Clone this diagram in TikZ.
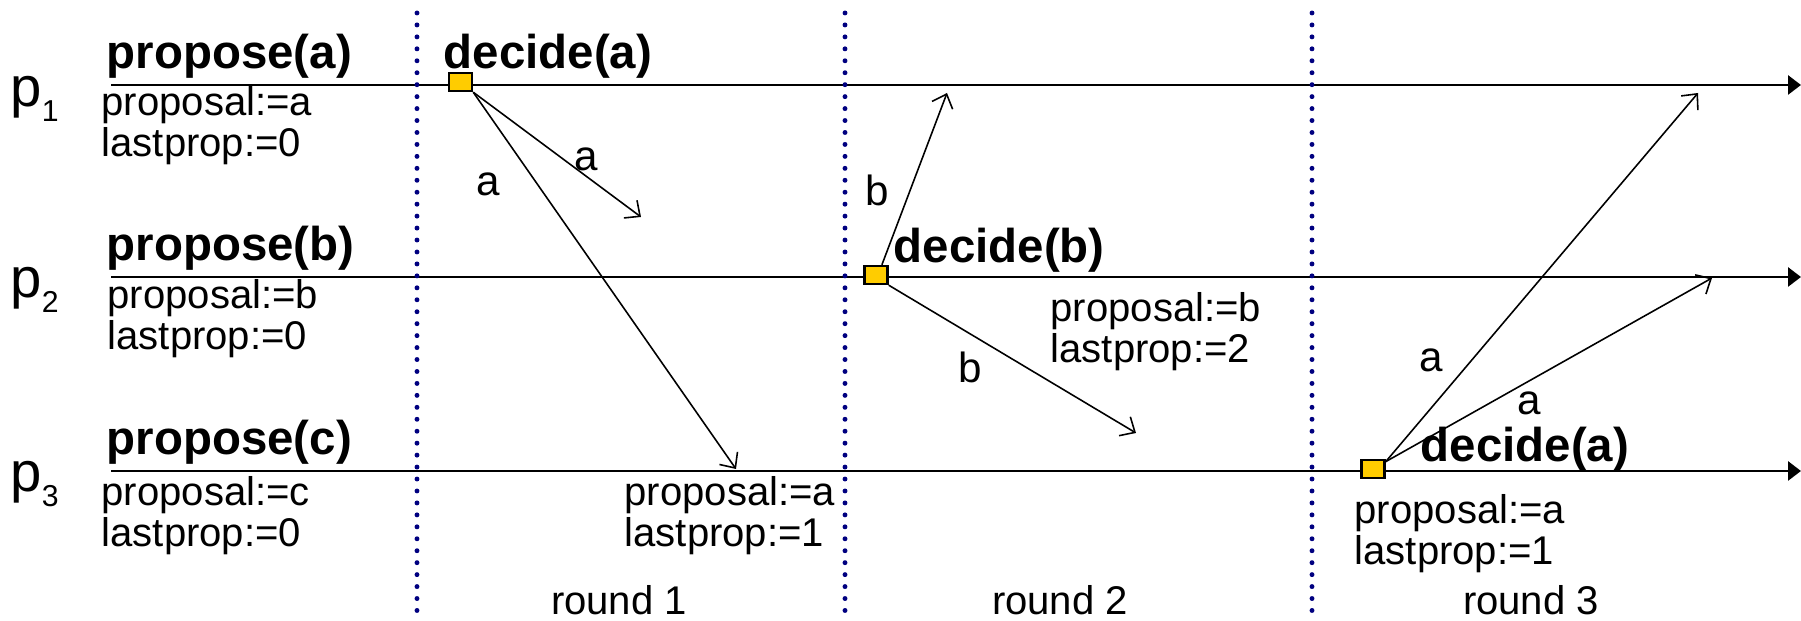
\documentclass[tikz,border=0pt]{standalone}
\usepackage{fontspec}
\setmainfont{Liberation Sans}
\usetikzlibrary{arrows.meta}
\definecolor{dotblue}{RGB}{0,0,128}
\definecolor{decyellow}{RGB}{255,204,0}
\newcommand{\psub}[1]{{\fontsize{8.6}{9}\selectfont\raisebox{-0.15cm}{#1}}}
\tikzset{
  procline/.style={line width=0.8pt, -{Triangle[length=0.13cm,width=0.19cm]}},
  roundsep/.style={dotblue, line width=1.4pt, line cap=round, dash pattern=on 0pt off 3.4pt},
  msgarrow/.style={line width=0.45pt, -{Straight Barb[length=0.12cm,width=0.22cm]}},
  decbox/.style={draw, fill=decyellow, line width=0.7pt, minimum width=0.23cm, minimum height=0.18cm, inner sep=0pt},
  evtext/.style={anchor=base west, inner sep=0pt, font=\fontsize{13.5}{16}\selectfont\bfseries},
  vartext/.style={anchor=base west, inner sep=0pt, align=left, font=\fontsize{11.4}{11.67}\selectfont},
  msglabel/.style={inner sep=0pt, font=\fontsize{12}{14}\selectfont},
  proclabel/.style={anchor=base west, inner sep=0pt, font=\fontsize{16}{18}\selectfont},
  roundlabel/.style={anchor=base, inner sep=0pt, font=\fontsize{11.4}{14}\selectfont}
}

\begin{document}
\begin{tikzpicture}
  \useasboundingbox (0,0) rectangle (18.01,6.21);

  % process time lines
  \coordinate (s1) at (1.11,5.36);
  \coordinate (e1) at (18.01,5.36);
  \coordinate (s2) at (1.11,3.44);
  \coordinate (e2) at (18.01,3.44);
  \coordinate (s3) at (1.11,1.50);
  \coordinate (e3) at (18.01,1.50);
  \foreach \i in {1,2,3}
    \draw[procline] (s\i) -- (e\i);

  % round borders
  \foreach \x [count=\i] in {4.17,8.45,13.12} {
    \coordinate (t\i) at (\x,6.08);
    \coordinate (b\i) at (\x,0);
    \draw[roundsep] (t\i) -- (b\i);
  }

  % process names
  \node[proclabel] (p1) at (0.10,5.14) {p\psub{1}};
  \node[proclabel] (p2) at (0.10,3.23) {p\psub{2}};
  \node[proclabel] (p3) at (0.10,1.29) {p\psub{3}};

  % decisions
  \node[decbox] (d1) at (4.605,5.39) {};
  \node[decbox] (d2) at (8.76,3.46) {};
  \node[decbox] (d3) at (13.73,1.52) {};

  % messages
  \coordinate (m1) at (6.41,4.04);
  \coordinate (m2) at (7.36,1.52);
  \coordinate (m3) at (9.47,5.28);
  \coordinate (m4) at (11.36,1.88);
  \coordinate (m5) at (16.98,5.28);
  \coordinate (m6) at (17.12,3.43);
  \draw[msgarrow] (d1.south east) -- (m1);
  \draw[msgarrow] (d1.south east) -- (m2);
  \draw[msgarrow] (d2.60) -- (m3);
  \draw[msgarrow] (d2.south east) -- (m4);
  \draw[msgarrow] (d3.30) -- (m5);
  \draw[msgarrow] (d3.30) -- (m6);

  \node[msglabel] (la1) at (4.88,4.37) {a};
  \node[msglabel] (la2) at (5.86,4.62) {a};
  \node[msglabel] (lb1) at (8.77,4.31) {b};
  \node[msglabel] (lb2) at (9.70,2.54) {b};
  \node[msglabel] (la3) at (14.31,2.61) {a};
  \node[msglabel] (la4) at (15.29,2.18) {a};

  % events
  \node[evtext] (prop1) at (1.06,5.525) {propose(a)};
  \node[evtext] (prop2) at (1.06,3.60) {propose(b)};
  \node[evtext] (prop3) at (1.06,1.66) {propose(c)};
  \node[evtext] (dec1) at (4.43,5.525) {decide(a)};
  \node[evtext] (dec2) at (8.93,3.58) {decide(b)};
  \node[evtext] (dec3) at (14.20,1.59) {decide(a)};

  % local state (base = last line)
  \node[vartext] (v1) at (1.01,4.64) {proposal:=a\\lastprop:=0};
  \node[vartext] (v2) at (1.07,2.71) {proposal:=b\\lastprop:=0};
  \node[vartext] (v3) at (1.01,0.74) {proposal:=c\\lastprop:=0};
  \node[vartext] (v4) at (6.24,0.74) {proposal:=a\\lastprop:=1};
  \node[vartext] (v5) at (10.50,2.58) {proposal:=b\\lastprop:=2};
  \node[vartext] (v6) at (13.54,0.56) {proposal:=a\\lastprop:=1};

  % rounds
  \node[roundlabel] (r1) at (6.19,0.06) {round 1};
  \node[roundlabel] (r2) at (10.60,0.06) {round 2};
  \node[roundlabel] (r3) at (15.31,0.06) {round 3};
\end{tikzpicture}
\end{document}
